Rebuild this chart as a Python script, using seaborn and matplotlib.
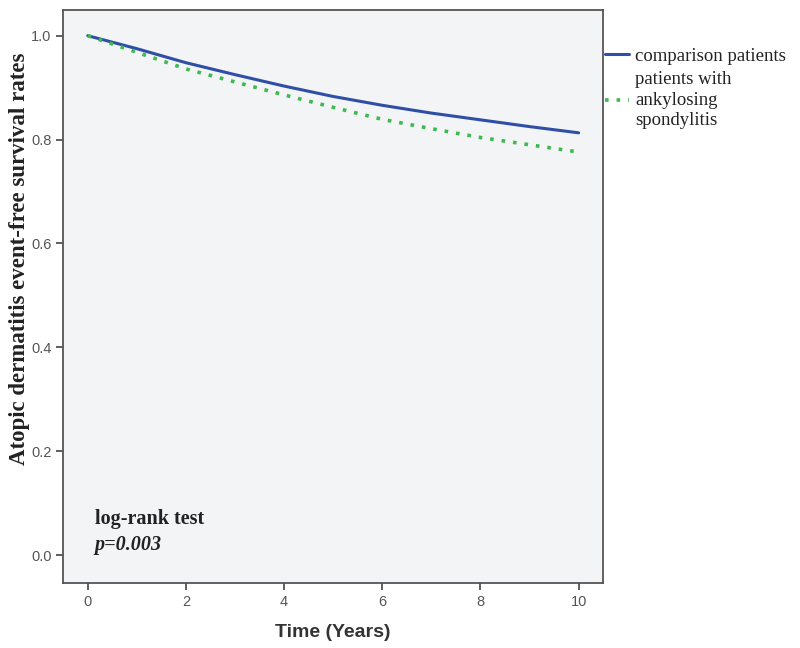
import matplotlib
matplotlib.use('Agg')
import matplotlib.pyplot as plt
import seaborn as sns
import pandas as pd

# Kaplan-Meier style curves (yearly points)
years = [0, 1, 2, 3, 4, 5, 6, 7, 8, 9, 10]
comparison_surv = [1.0, 0.975, 0.948, 0.925, 0.903, 0.883, 0.866, 0.851, 0.838, 0.825, 0.813]
as_surv = [1.0, 0.968, 0.936, 0.911, 0.886, 0.862, 0.839, 0.821, 0.804, 0.790, 0.776]
group_labels = ["comparison patients", "patients with\nankylosing\nspondylitis"]
x_ticks = [0, 2, 4, 6, 8, 10]
y_ticks = [0.0, 0.2, 0.4, 0.6, 0.8, 1.0]

df = pd.DataFrame({
    "time": years * 2,
    "surv": comparison_surv + as_surv,
    "group": [group_labels[0]] * len(years) + [group_labels[1]] * len(years),
})

sns.set_style("ticks")
plt.rcParams['font.family'] = ['Liberation Sans', 'DejaVu Sans']
serif = ['Liberation Serif', 'DejaVu Serif']

fig = plt.figure(figsize=(8, 6.48), dpi=100)
ax = fig.add_axes([0.079, 0.100, 0.675, 0.885])
ax.set_facecolor('#f3f4f6')

blue = '#2f4fa6'
green = '#3dba4e'
sns.lineplot(data=df[df.group == group_labels[0]], x="time", y="surv", ax=ax,
             color=blue, lw=2.2, label=group_labels[0], legend=False)
sns.lineplot(data=df[df.group == group_labels[1]], x="time", y="surv", ax=ax,
             color=green, lw=2.6, linestyle=(0, (1, 2.2)), label=group_labels[1],
             legend=False)

ax.set_xlim(-0.5, 10.5)
ax.set_ylim(-0.054, 1.05)
ax.set_xticks(x_ticks)
ax.set_yticks(y_ticks)
ax.set_yticklabels([f"{v:.1f}" for v in y_ticks])
ax.tick_params(axis='both', direction='out', length=5, width=1.2, color='#444444',
               labelsize=10.5, labelcolor='#555555')

for s in ax.spines.values():
    s.set_visible(True)
    s.set_color('#555555')
    s.set_linewidth(1.3)

ax.set_xlabel("Time (Years)", fontsize=14, fontweight='bold', color='#333333', labelpad=11)
ax.set_ylabel("Atopic dermatitis event-free survival rates", fontsize=16.5,
              fontweight='bold', family=serif, color='#222222')
ax.yaxis.set_label_coords(-0.08, 0.565)
ax.yaxis.label.set_verticalalignment('center')

ax.text(0.14, 0.069, "log-rank test", fontsize=14.5, fontweight='bold',
        family=serif, color='#222222', va='center')
ax.text(0.14, 0.019, "p=0.003", fontsize=14.5, fontweight='bold', style='italic',
        family=serif, color='#222222', va='center')

leg = ax.legend(loc='upper left', bbox_to_anchor=(1.0, 0.937), frameon=False,
                handlelength=1.3, handletextpad=0.3, borderaxespad=0, borderpad=0.1,
                labelspacing=0.35, prop={'family': serif, 'size': 13.5})
for t in leg.get_texts():
    t.set_color('#222222')
    t.set_linespacing(1.25)

fig.savefig("out.png", dpi=100, facecolor='white')
